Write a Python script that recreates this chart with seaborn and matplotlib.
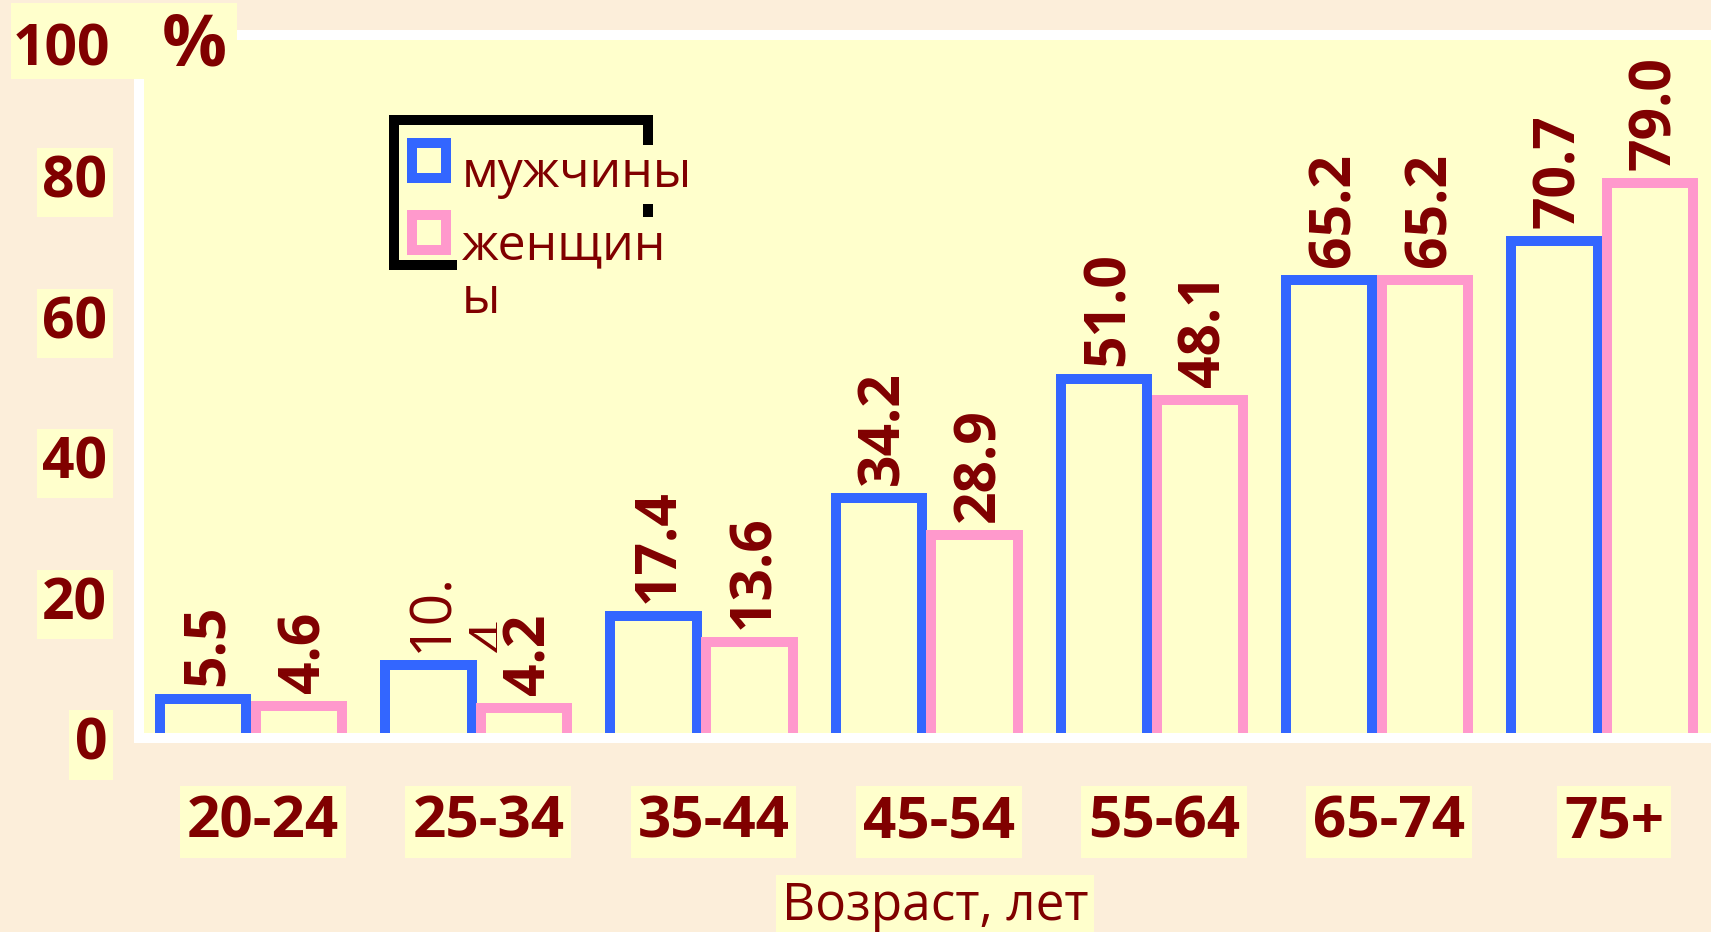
import matplotlib
matplotlib.use("Agg")
import matplotlib.pyplot as plt
import matplotlib.transforms as mtrans
from matplotlib.patches import Rectangle
import numpy as np
import pandas as pd
import seaborn as sns

# ---- data -------------------------------------------------------------
ages = ['20-24', '25-34', '35-44', '45-54', '55-64', '65-74', '75+']
men = [5.5, 10.4, 17.4, 34.2, 51.0, 65.2, 70.7]
women = [4.6, 4.2, 13.6, 28.9, 48.1, 65.2, 79.0]
series_names = ['мужчины', 'женщины']
y_ticks = [0, 10, 20, 30, 40, 50, 60, 70, 80, 90, 100]
y_tick_labels = ['0', '', '20', '', '40', '', '60', '', '80', '', '']
x_title = 'Возраст, лет'
y_unit = '%'

# ---- style ------------------------------------------------------------
MAROON = '#800000'
BLUE = '#3366FF'
PINK = '#FF99CC'
CREAM = '#FFFFCC'
PAPER = '#FCEEDA'
W, H, DPI = 1711, 932, 100

sns.set_style('white')
plt.rcParams['font.family'] = ['Open Sans', 'DejaVu Sans']


def fx(x):
    return x / W


def fy(y):
    return 1 - y / H


def px_offset(dx, dy):
    return mtrans.ScaledTranslation(dx / DPI, dy / DPI, fig.dpi_scale_trans)


fig = plt.figure(figsize=(W / DPI, H / DPI), dpi=DPI, facecolor=PAPER)
ax = fig.add_axes([fx(138.5), fy(738), 1576.4 / W, 703 / H])
ax.set_facecolor(CREAM)

df = pd.DataFrame({
    'age': ages * 2,
    'pct': men + women,
    'sex': [series_names[0]] * len(ages) + [series_names[1]] * len(ages),
})

sns.barplot(data=df, x='age', y='pct', hue='sex', order=ages,
            hue_order=series_names, palette=[BLUE, PINK], fill=False,
            linewidth=7.2, width=0.852, gap=0.1, errorbar=None,
            legend=False, ax=ax)

# outline-only bars with square corners
n = len(ages)
for k, col in enumerate([BLUE, PINK]):
    for i in range(n):
        p = ax.patches[k * n + i]
        p.set_facecolor('none')
        p.set_edgecolor(col)
        p.set_linewidth(7.2)
        p.set_joinstyle('miter')

ax.set_xlim(-0.5, n - 0.5)
ax.set_ylim(0, 100)
ax.set_xlabel('')
ax.set_ylabel('')

for s in ax.spines.values():
    s.set_visible(True)
    s.set_color('white')
    s.set_linewidth(7.2)
    s.set_zorder(3)

# x axis: tick marks between groups, labels drawn at the group centres
ax.set_xticks(np.arange(-0.5, n, 1.0))
ax.tick_params(axis='x', direction='out', length=12.2, width=7.2,
               color='white', labelbottom=False)
for i, age in enumerate(ages):
    ax.text(i, 0, age, transform=ax.get_xaxis_transform() + px_offset(12, -99),
            ha='center', va='baseline', fontsize=42, fontweight='bold',
            color=MAROON,
            bbox=dict(boxstyle='square,pad=0.12', fc=CREAM, ec='none'))

# y axis
ax.set_yticks(y_ticks, labels=y_tick_labels)
ax.tick_params(axis='y', direction='out', length=11, width=7.2,
               color='white', pad=11.5, labelsize=41, labelcolor=MAROON)
for t in ax.get_yticklabels():
    t.set_fontweight('bold')
    t.set_bbox(dict(boxstyle='square,pad=0.1', fc=CREAM, ec='none'))

# value labels above the bars
for k in range(2):
    for i in range(n):
        bar = ax.patches[k * n + i]
        cx = bar.get_x() + bar.get_width() / 2
        top = bar.get_height()
        label = f'{top:.1f}'
        if (k, i) == (0, 1):
            # this label wraps inside its narrow box: "10." then a cut "4"
            head, tail = label[:3], label[3:]
            ax.text(cx, top, head, transform=ax.transData + px_offset(5, 13),
                    rotation=90, ha='center', va='bottom', fontsize=41,
                    color=MAROON)
            t2 = ax.text(cx, top, tail,
                         transform=ax.transData + px_offset(67, 13),
                         rotation=90, ha='center', va='bottom', fontsize=41,
                         color=MAROON)
            clip = mtrans.TransformedBbox(
                mtrans.Bbox.from_extents(fx(400), fy(660), fx(497), fy(560)),
                fig.transFigure)
            t2.set_clip_box(clip)
            t2.set_clip_on(True)
            continue
        ax.text(cx, top, label, transform=ax.transData + px_offset(5, 13),
                rotation=90, ha='center', va='bottom', fontsize=41,
                fontweight='bold', color=MAROON)

# "100 %" heading of the value axis
fig.add_artist(Rectangle((fx(11), fy(79)), 226 / W, 76 / H,
                         transform=fig.transFigure, fc=CREAM, ec='none',
                         zorder=1.5))
fig.text(fx(110), fy(65), '100', ha='right', va='baseline', fontsize=41,
         fontweight='bold', color=MAROON, zorder=3)
fig.text(fx(162), fy(65), y_unit, ha='left', va='baseline', fontsize=52,
         fontweight='bold', color=MAROON, zorder=3)

# axis title
fig.text(fx(935), fy(920), x_title, ha='center', va='baseline', fontsize=37,
         color=MAROON, zorder=3,
         bbox=dict(boxstyle='square,pad=0.12', fc=CREAM, ec='none'))

# legend: black frame, outlined swatches, labels on cream boxes
fig.add_artist(Rectangle((fx(394), fy(265)), (648 - 394) / W, (265 - 120) / H,
                         transform=fig.transFigure, fill=False, ec='black',
                         lw=7.2, joinstyle='miter', zorder=1.5))
for col, top_px in [(BLUE, 143), (PINK, 215)]:
    fig.add_artist(Rectangle((fx(412), fy(top_px + 35)), 34 / W, 35 / H,
                             transform=fig.transFigure, fill=False, ec=col,
                             lw=7.2, joinstyle='miter', zorder=2))
fig.text(fx(462), fy(187), series_names[0], ha='left', va='baseline',
         fontsize=36, color=MAROON, zorder=3,
         bbox=dict(boxstyle='square,pad=0.1', fc=CREAM, ec='none'))
fig.text(fx(462), fy(222), series_names[1][:-1] + '\n' + series_names[1][-1],
         ha='left', va='top', fontsize=36, color=MAROON, zorder=3,
         linespacing=1.1,
         bbox=dict(boxstyle='square,pad=0.1', fc=CREAM, ec='none'))

fig.savefig('out.png', dpi=DPI, facecolor=PAPER)
